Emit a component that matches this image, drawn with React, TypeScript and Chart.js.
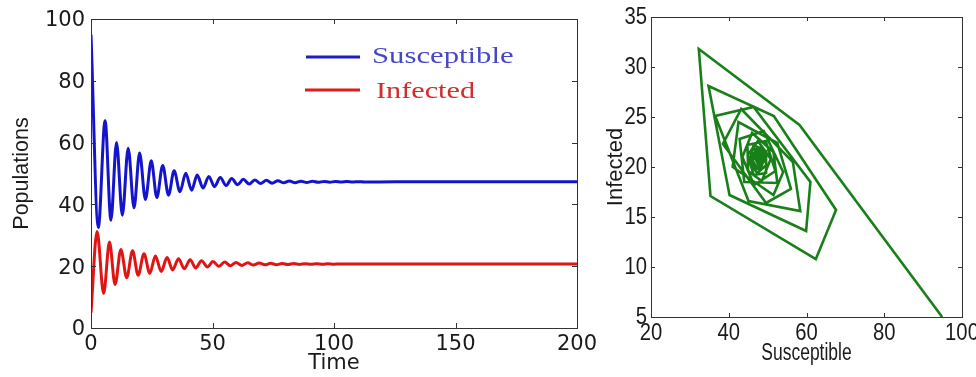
import React, { useEffect, useRef } from "react";
import { Chart, registerables } from "chart.js";

Chart.register(...registerables);

// ---- Left chart: time series (extrema) ----
const sTime = [
  0, 3.0, 5.8, 8.2, 10.5, 12.9, 15.3, 17.7, 20.0, 22.4, 24.8, 27.1, 29.5, 31.9, 34.2, 36.6,
  39.0, 41.4, 43.7, 46.1, 48.5, 50.8, 53.2, 55.6, 57.9, 60.3, 62.7, 65.1, 67.4, 69.8, 72.2,
  74.5, 76.9, 79.3, 81.6, 84.0, 86.4, 88.8, 91.1, 93.5, 95.9, 98.2, 100.6, 103.0, 105.3,
  107.7, 110.1, 112.5, 125, 200,
];
const sValue = [
  95, 32.5, 67.1, 34.9, 60.0, 36.5, 58.2, 38.9, 56.6, 41.6, 54.1, 42.2, 52.6, 43.0, 50.9, 44.1,
  50.1, 44.6, 49.5, 45.3, 49.05, 45.75, 48.67, 46.1, 48.36, 46.37, 48.12, 46.58, 47.93, 46.74, 47.79,
  46.87, 47.68, 46.97, 47.59, 47.04, 47.53, 47.1, 47.48, 47.14, 47.44, 47.18, 47.4, 47.21, 47.38,
  47.23, 47.36, 47.25, 47.3, 47.3,
];
const iTime = [
  0, 2.5, 5.2, 7.6, 9.9, 12.3, 14.7, 17.1, 19.4, 21.8, 24.2, 26.5, 28.9, 31.3, 33.6, 36.0,
  38.4, 40.8, 43.1, 45.5, 47.9, 50.2, 52.6, 55.0, 57.3, 59.7, 62.1, 64.5, 66.8, 69.2, 71.6,
  73.9, 76.3, 78.7, 81.0, 83.4, 85.8, 88.2, 90.5, 92.9, 95.3, 97.6, 100.0, 102.4, 115, 200,
];
const iValue = [
  5.0, 31.2, 11.2, 27.8, 14.1, 25.4, 16.3, 25.0, 17.1, 24.0, 17.7, 23.3, 18.3, 22.8, 18.8, 22.4,
  19.15, 22.1, 19.45, 21.8, 19.73, 21.55, 19.95, 21.36, 20.12, 21.2, 20.26, 21.09, 20.36, 21.0, 20.44,
  20.93, 20.5, 20.88, 20.54, 20.84, 20.58, 20.8, 20.61, 20.78, 20.63, 20.76, 20.65, 20.745, 20.7, 20.7,
];
const timeTicks = [0, 50, 100, 150, 200];
const popTicks = [0, 20, 40, 60, 80, 100];

// ---- Right chart: phase portrait vertices (Susceptible, Infected) ----
const phaseS = [
  94.9, 58.2, 32.3, 35.3, 62.4, 67.6,
  51.6, 34.8, 40.2, 59.9, 61.0,
  46.4, 36.5, 45.1, 58.4, 56.5,
  43.2, 38.5, 49.6, 56.0, 52.5,
  42.5, 41.0, 51.5, 54.0, 49.0,
  42.8, 44.0, 52.5, 51.5, 46.0,
  43.5, 46.5, 52.0, 49.5, 44.8,
  45.0, 48.5, 50.8, 47.5, 44.9,
  46.4, 49.6, 49.6, 46.4, 45.3,
  47.3, 49.7, 48.6, 46.0, 45.9,
  48.0, 49.3, 47.6, 45.9, 46.6,
  48.4, 48.7, 46.9, 46.2, 47.3,
  48.6, 48.5, 47.3, 46.9, 47.5,
  48.4, 48.1, 47.3, 47.2, 47.8,
  48.2, 47.8, 47.4, 47.5, 47.9,
  47.9, 47.6, 47.7,
];
const phaseI = [
  5.0, 24.2, 31.8, 17.1, 10.8, 15.7,
  25.1, 28.1, 17.2, 13.6, 18.5,
  26.0, 25.1, 16.6, 15.6, 20.5,
  25.8, 22.3, 16.4, 17.8, 22.4,
  24.5, 20.0, 17.2, 19.5, 23.6,
  22.8, 18.5, 18.4, 21.5, 23.4,
  21.0, 18.2, 19.6, 22.6, 22.2,
  19.6, 18.6, 20.8, 22.6, 21.2,
  19.2, 19.4, 21.6, 22.2, 20.5,
  19.4, 20.2, 22.0, 21.7, 20.1,
  19.7, 20.9, 21.9, 21.1, 19.9,
  20.1, 21.4, 21.6, 20.6, 19.9,
  20.4, 21.3, 21.5, 20.8, 20.3,
  20.6, 21.3, 21.3, 20.7, 20.5,
  20.8, 21.2, 21.1, 20.7, 20.7,
  21.0, 21.0, 20.8,
];
const suscTicks = [20, 40, 60, 80, 100];
const infTicks = [5, 10, 15, 20, 25, 30, 35];

type FrameOpts = {
  xTicks: number[];
  yTicks: number[];
  tickLen: number;
  tickFont: string;
  tickScaleX: number;
  xLabelY: number;
  yLabelGap: number;
  yLabelDy: number;
  xTitle: string;
  xTitleFont: string;
  xTitleScaleX: number;
  xTitleY: number;
  yTitle: string;
  yTitleFont: string;
  yTitleX: number;
  legend?: boolean;
};

function drawText(ctx: CanvasRenderingContext2D, text: string, x: number, y: number, sx: number, align: CanvasTextAlign) {
  ctx.save();
  ctx.translate(x, y);
  ctx.scale(sx, 1);
  ctx.textAlign = align;
  ctx.textBaseline = "middle";
  ctx.fillText(text, 0, 0);
  ctx.restore();
}

function framePlugin(o: FrameOpts) {
  return {
    id: "frame",
    afterDraw(chart: any) {
      const ctx: CanvasRenderingContext2D = chart.ctx;
      const a = chart.chartArea;
      const xs = chart.scales.x;
      const ys = chart.scales.y;
      ctx.save();
      ctx.strokeStyle = "#333";
      ctx.lineWidth = 1;
      ctx.strokeRect(Math.round(a.left) + 0.5, Math.round(a.top) + 0.5, Math.round(a.right - a.left), Math.round(a.bottom - a.top));
      ctx.beginPath();
      for (const v of o.xTicks) {
        const px = Math.round(xs.getPixelForValue(v)) + 0.5;
        ctx.moveTo(px, a.bottom);
        ctx.lineTo(px, a.bottom - o.tickLen);
        ctx.moveTo(px, a.top);
        ctx.lineTo(px, a.top + o.tickLen);
      }
      for (const v of o.yTicks) {
        const py = Math.round(ys.getPixelForValue(v)) + 0.5;
        ctx.moveTo(a.left, py);
        ctx.lineTo(a.left + o.tickLen, py);
        ctx.moveTo(a.right, py);
        ctx.lineTo(a.right - o.tickLen, py);
      }
      ctx.stroke();

      ctx.fillStyle = "#1a1a1a";
      ctx.font = o.tickFont;
      for (const v of o.xTicks) {
        drawText(ctx, String(v), xs.getPixelForValue(v), o.xLabelY, o.tickScaleX, "center");
      }
      for (const v of o.yTicks) {
        drawText(ctx, String(v), a.left - o.yLabelGap, ys.getPixelForValue(v) + o.yLabelDy, o.tickScaleX, "right");
      }
      ctx.font = o.xTitleFont;
      drawText(ctx, o.xTitle, (a.left + a.right) / 2, o.xTitleY, o.xTitleScaleX, "center");
      ctx.save();
      ctx.translate(o.yTitleX, (a.top + a.bottom) / 2);
      ctx.rotate(-Math.PI / 2);
      ctx.font = o.yTitleFont;
      ctx.textAlign = "center";
      ctx.textBaseline = "middle";
      ctx.fillText(o.yTitle, 0, 0);
      ctx.restore();

      if (o.legend) {
        ctx.lineWidth = 3;
        ctx.strokeStyle = "rgb(30,30,200)";
        ctx.beginPath();
        ctx.moveTo(306, 57);
        ctx.lineTo(360, 57);
        ctx.stroke();
        ctx.strokeStyle = "rgb(220,30,30)";
        ctx.beginPath();
        ctx.moveTo(305, 90);
        ctx.lineTo(360, 90);
        ctx.stroke();
        ctx.font = "24px 'Liberation Serif'";
        ctx.fillStyle = "rgb(70,70,200)";
        ctx.save();
        ctx.translate(372, 63);
        ctx.scale(1.28, 1);
        ctx.textAlign = "left";
        ctx.textBaseline = "alphabetic";
        ctx.fillText("Susceptible", 0, 0);
        ctx.restore();
        ctx.fillStyle = "rgb(210,45,45)";
        ctx.save();
        ctx.translate(376, 98);
        ctx.scale(1.26, 1);
        ctx.textAlign = "left";
        ctx.textBaseline = "alphabetic";
        ctx.fillText("Infected", 0, 0);
        ctx.restore();
      }
      ctx.restore();
    },
  };
}

export default function App() {
  const leftRef = useRef<HTMLCanvasElement>(null);
  const rightRef = useRef<HTMLCanvasElement>(null);

  useEffect(() => {
    const left = new Chart(leftRef.current as HTMLCanvasElement, {
      type: "line",
      data: {
        datasets: [
          {
            label: "Susceptible",
            data: sTime.map((t, i) => ({ x: t, y: sValue[i] })),
            borderColor: "rgb(20,20,205)",
            borderWidth: 3,
            pointRadius: 0,
            cubicInterpolationMode: "monotone",
            fill: false,
          },
          {
            label: "Infected",
            data: iTime.map((t, i) => ({ x: t, y: iValue[i] })),
            borderColor: "rgb(225,20,20)",
            borderWidth: 3,
            pointRadius: 0,
            cubicInterpolationMode: "monotone",
            fill: false,
          },
        ],
      },
      options: {
        responsive: false,
        animation: false,
        devicePixelRatio: 1,
        layout: { padding: { left: 0, right: 23, top: 19, bottom: 0 } },
        plugins: { legend: { display: false }, tooltip: { enabled: false } },
        scales: {
          x: {
            type: "linear",
            min: timeTicks[0],
            max: timeTicks[timeTicks.length - 1],
            ticks: { display: false, stepSize: 50 },
            grid: { display: false },
            border: { display: false },
            afterFit: (s: any) => { s.height = 49; },
          },
          y: {
            type: "linear",
            min: popTicks[0],
            max: popTicks[popTicks.length - 1],
            ticks: { display: false, stepSize: 20 },
            grid: { display: false },
            border: { display: false },
            afterFit: (s: any) => { s.width = 91; },
          },
        },
      },
      plugins: [
        framePlugin({
          xTicks: timeTicks,
          yTicks: popTicks,
          tickLen: 5,
          tickFont: "21px 'DejaVu Sans'",
          tickScaleX: 1,
          xLabelY: 345,
          yLabelGap: 6,
          yLabelDy: 2,
          xTitle: "Time",
          xTitleFont: "21px 'DejaVu Sans'",
          xTitleScaleX: 1,
          xTitleY: 364,
          yTitle: "Populations",
          yTitleFont: "21.5px 'Liberation Sans'",
          yTitleX: 22,
          legend: true,
        }),
      ],
    } as any);

    const right = new Chart(rightRef.current as HTMLCanvasElement, {
      type: "scatter",
      data: {
        datasets: [
          {
            label: "phase",
            data: phaseS.map((s, i) => ({ x: s, y: phaseI[i] })),
            showLine: true,
            borderColor: "rgb(25,128,25)",
            borderWidth: 2.6,
            pointRadius: 0,
            tension: 0,
            fill: false,
          },
        ],
      },
      options: {
        responsive: false,
        animation: false,
        devicePixelRatio: 1,
        layout: { padding: { left: 0, right: 14, top: 17, bottom: 0 } },
        plugins: { legend: { display: false }, tooltip: { enabled: false } },
        scales: {
          x: {
            type: "linear",
            min: suscTicks[0],
            max: suscTicks[suscTicks.length - 1],
            ticks: { display: false, stepSize: 20 },
            grid: { display: false },
            border: { display: false },
            afterFit: (s: any) => { s.height = 60; },
          },
          y: {
            type: "linear",
            min: infTicks[0],
            max: infTicks[infTicks.length - 1],
            ticks: { display: false, stepSize: 5 },
            grid: { display: false },
            border: { display: false },
            afterFit: (s: any) => { s.width = 51; },
          },
        },
      },
      plugins: [
        framePlugin({
          xTicks: suscTicks,
          yTicks: infTicks,
          tickLen: 4,
          tickFont: "23px 'Liberation Sans'",
          tickScaleX: 0.88,
          xLabelY: 334,
          yLabelGap: 4,
          yLabelDy: 1,
          xTitle: "Susceptible",
          xTitleFont: "23px 'Liberation Sans'",
          xTitleScaleX: 0.76,
          xTitleY: 354,
          yTitle: "Infected",
          yTitleFont: "22px 'Liberation Sans'",
          yTitleX: 16,
        }),
      ],
    } as any);

    return () => {
      left.destroy();
      right.destroy();
    };
  }, []);

  return (
    <div style={{ position: "fixed", left: 0, top: 0, width: 976, height: 377, background: "#fff" }}>
      <canvas ref={leftRef} width={600} height={377} style={{ position: "absolute", left: 0, top: 0, width: 600, height: 377 }} />
      <canvas ref={rightRef} width={376} height={377} style={{ position: "absolute", left: 600, top: 0, width: 376, height: 377 }} />
    </div>
  );
}
